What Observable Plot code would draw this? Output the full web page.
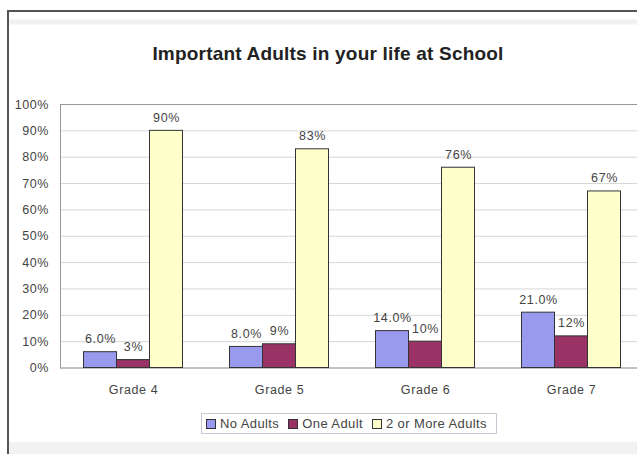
<!DOCTYPE html>
<html>
<head>
<meta charset="utf-8">
<script src="https://cdn.jsdelivr.net/npm/d3@7"></script>
<script src="https://cdn.jsdelivr.net/npm/@observablehq/plot@0.6"></script>
<style>
  html, body { margin: 0; padding: 0; background: #fff; overflow: hidden; }
  #wrap { position: relative; width: 637px; height: 454px; background: #fff;
          font-family: "Liberation Sans", Arial, sans-serif; }
  #frame { position: absolute; left: 7px; top: 10px; width: 630px; height: 444px;
           border-left: 2px solid #555; border-top: 2px solid #555; box-sizing: border-box; }
  #shade { position: absolute; left: 9px; top: 19px; width: 628px; height: 6px;
           background: linear-gradient(#f7f7f7, #eeeeee, #f9f9f9); }
  #bottom { position: absolute; left: 9px; top: 442px; width: 628px; height: 12px; background: #f2f2f2; }
  #title { position: absolute; left: 0; top: 43px; width: 656px; text-align: center;
           font-weight: bold; font-size: 19px; color: #222; letter-spacing: 0.2px; }
  #chart { position: absolute; left: 0; top: 90px; width: 637px; height: 310px; }
  #legend { position: absolute; left: 201px; top: 413px; height: 21px; width: 296px; box-sizing: border-box;
            border: 1px solid #c9c9d6; display: flex; align-items: center; padding-left: 4px;
            font-size: 13px; letter-spacing: 0.4px; color: #444; background: #fff; }
  .item { display: flex; align-items: center; margin-right: 9px; white-space: nowrap; }
  .sw { width: 8px; height: 8px; border: 1px solid #333; margin-right: 4px; }
</style>
</head>
<body>
<div id="wrap">
  <div id="frame"></div>
  <div id="shade"></div>
  <div id="bottom"></div>
  <div id="title">Important Adults in your life at School</div>
  <div id="chart"></div>
  <div id="legend"></div>
</div>
<script>
const grades = ["Grade 4", "Grade 5", "Grade 6", "Grade 7"];
const series = ["No Adults", "One Adult", "2 or More Adults"];
const noAdults = [6, 8, 14, 21];
const oneAdult = [3, 9, 10, 12];
const twoOrMore = [90, 83, 76, 67];
const noAdultsLabels = ["6.0%", "8.0%", "14.0%", "21.0%"];
const oneAdultLabels = ["3%", "9%", "10%", "12%"];
const twoOrMoreLabels = ["90%", "83%", "76%", "67%"];
const colors = ["#9999EE", "#993366", "#FFFFCC"];
const yTicks = [0, 10, 20, 30, 40, 50, 60, 70, 80, 90, 100];

const valuesBySeries = [noAdults, oneAdult, twoOrMore];
const labelsBySeries = [noAdultsLabels, oneAdultLabels, twoOrMoreLabels];
const rows = [];
grades.forEach((g, i) => {
  series.forEach((s, j) => {
    rows.push({grade: g, series: s, value: valuesBySeries[j][i], label: labelsBySeries[j][i]});
  });
});

const chart = Plot.plot({
  width: 637,
  height: 310,
  marginLeft: 59.5,
  marginRight: -6.5,
  marginTop: 14,
  marginBottom: 32.5,
  style: {fontFamily: "'Liberation Sans', Arial, sans-serif", fontSize: "12.5px", letterSpacing: "0.6px", color: "#444", background: "transparent"},
  fx: {domain: grades, padding: 0, label: null, tickSize: 0, tickPadding: 17},
  x: {domain: series, paddingInner: 0, paddingOuter: 0.712, axis: null},
  y: {domain: [0, 100], ticks: yTicks, tickFormat: d => d + "%", tickSize: 0, tickPadding: 11.5, label: null},
  color: {domain: series, range: colors},
  marks: [
    Plot.ruleY(yTicks, {stroke: "#d6d6d6", strokeWidth: 1}),
    Plot.ruleY([0, 100], {stroke: "#999", strokeWidth: 1}),
    Plot.frame({anchor: "left", facetAnchor: "left", stroke: "#999"}),
    Plot.barY(rows, {fx: "grade", x: "series", y: "value", fill: "series", stroke: "#333", strokeWidth: 1, insetLeft: 0, insetRight: 0}),
    Plot.text(rows, {fx: "grade", x: "series", y: "value", text: "label", dy: -13, fill: "#444", fontSize: 12.5})
  ]
});
document.getElementById("chart").appendChild(chart);

const legend = document.getElementById("legend");
series.forEach((s, j) => {
  const item = document.createElement("div");
  item.className = "item";
  const sw = document.createElement("span");
  sw.className = "sw";
  sw.style.background = colors[j];
  const t = document.createElement("span");
  t.textContent = s;
  item.appendChild(sw);
  item.appendChild(t);
  legend.appendChild(item);
});
</script>
</body>
</html>
